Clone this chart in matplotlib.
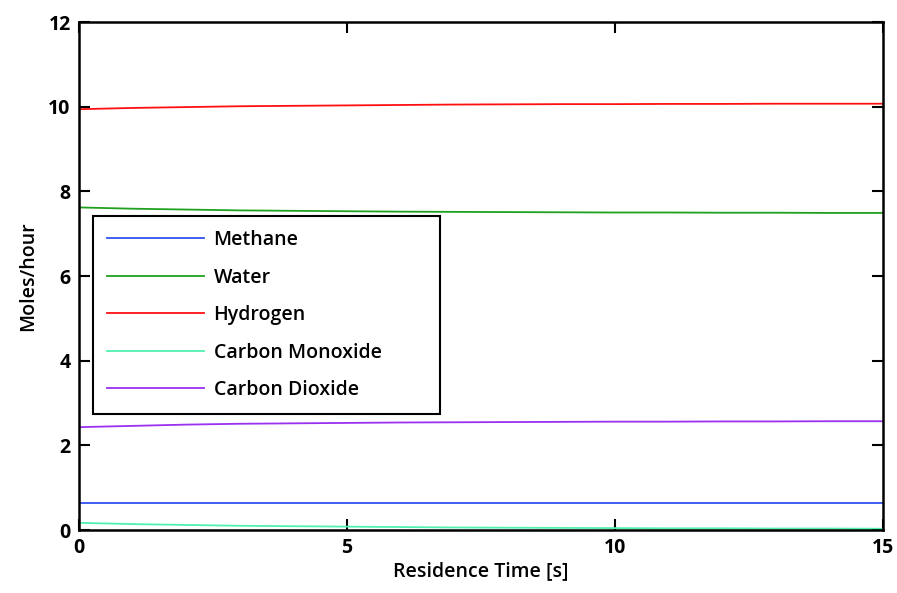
import numpy as np
import matplotlib
matplotlib.use("Agg")
import matplotlib.pyplot as plt

plt.rcParams['font.family'] = ['Open Sans', 'DejaVu Sans']
plt.rcParams['font.weight'] = 'semibold'
plt.rcParams['axes.labelweight'] = 'semibold'

# residence time [s]
t = [0, 1, 2, 3, 4, 5, 6, 7, 8, 9, 10, 11, 12, 13, 14, 15]

# molar flows [mol/h]
methane = [0.65] * 16
water = [7.62, 7.59, 7.57, 7.55, 7.54, 7.53, 7.52, 7.515, 7.51, 7.505, 7.50, 7.50, 7.495, 7.495, 7.49, 7.49]
hydrogen = [9.94, 9.97, 9.99, 10.01, 10.02, 10.03, 10.04, 10.05, 10.055, 10.06, 10.06, 10.065, 10.065, 10.07, 10.07, 10.07]
co = [0.17, 0.14, 0.12, 0.10, 0.09, 0.08, 0.07, 0.06, 0.055, 0.05, 0.045, 0.04, 0.04, 0.035, 0.035, 0.03]
co2 = [2.43, 2.46, 2.49, 2.51, 2.52, 2.53, 2.54, 2.545, 2.55, 2.555, 2.56, 2.56, 2.565, 2.565, 2.57, 2.57]

names = ['Methane', 'Water', 'Hydrogen', 'Carbon Monoxide', 'Carbon Dioxide']
colors = ['#3050f0', '#20a020', '#ff1010', '#50f0b0', '#9a30f0']

fig = plt.figure(figsize=(8.97, 5.93), dpi=100)
ax = fig.add_axes([0.0881, 0.1062, 0.8963, 0.8567])

for y, name, c in zip([methane, water, hydrogen, co, co2], names, colors):
    ax.plot(t, y, color=c, lw=1.3, label=name)

ax.set_xlim(0, 15)
ax.set_ylim(0, 12)
ax.set_xticks([0, 5, 10, 15])
ax.set_yticks([0, 2, 4, 6, 8, 10, 12])
ax.tick_params(direction='in', length=8, width=1.5, top=True, right=True,
               labelsize=14, pad=6)
for lab in ax.get_xticklabels() + ax.get_yticklabels():
    lab.set_fontweight('bold')
for sp in ax.spines.values():
    sp.set_linewidth(1.8)

ax.set_xlabel('Residence Time [s]', fontsize=14, labelpad=2)
ax.set_ylabel('Moles/hour', fontsize=14, labelpad=7)

leg = ax.legend(loc='lower left', bbox_to_anchor=(0.0174, 0.229, 0.432, 0.384),
                mode='expand', borderaxespad=0, fontsize=14, fancybox=False,
                framealpha=1, edgecolor='black', handlelength=5,
                labelspacing=0.9, borderpad=0.7, handletextpad=0.5)
leg.get_frame().set_linewidth(1.5)

fig.savefig('out.png', dpi=100)
